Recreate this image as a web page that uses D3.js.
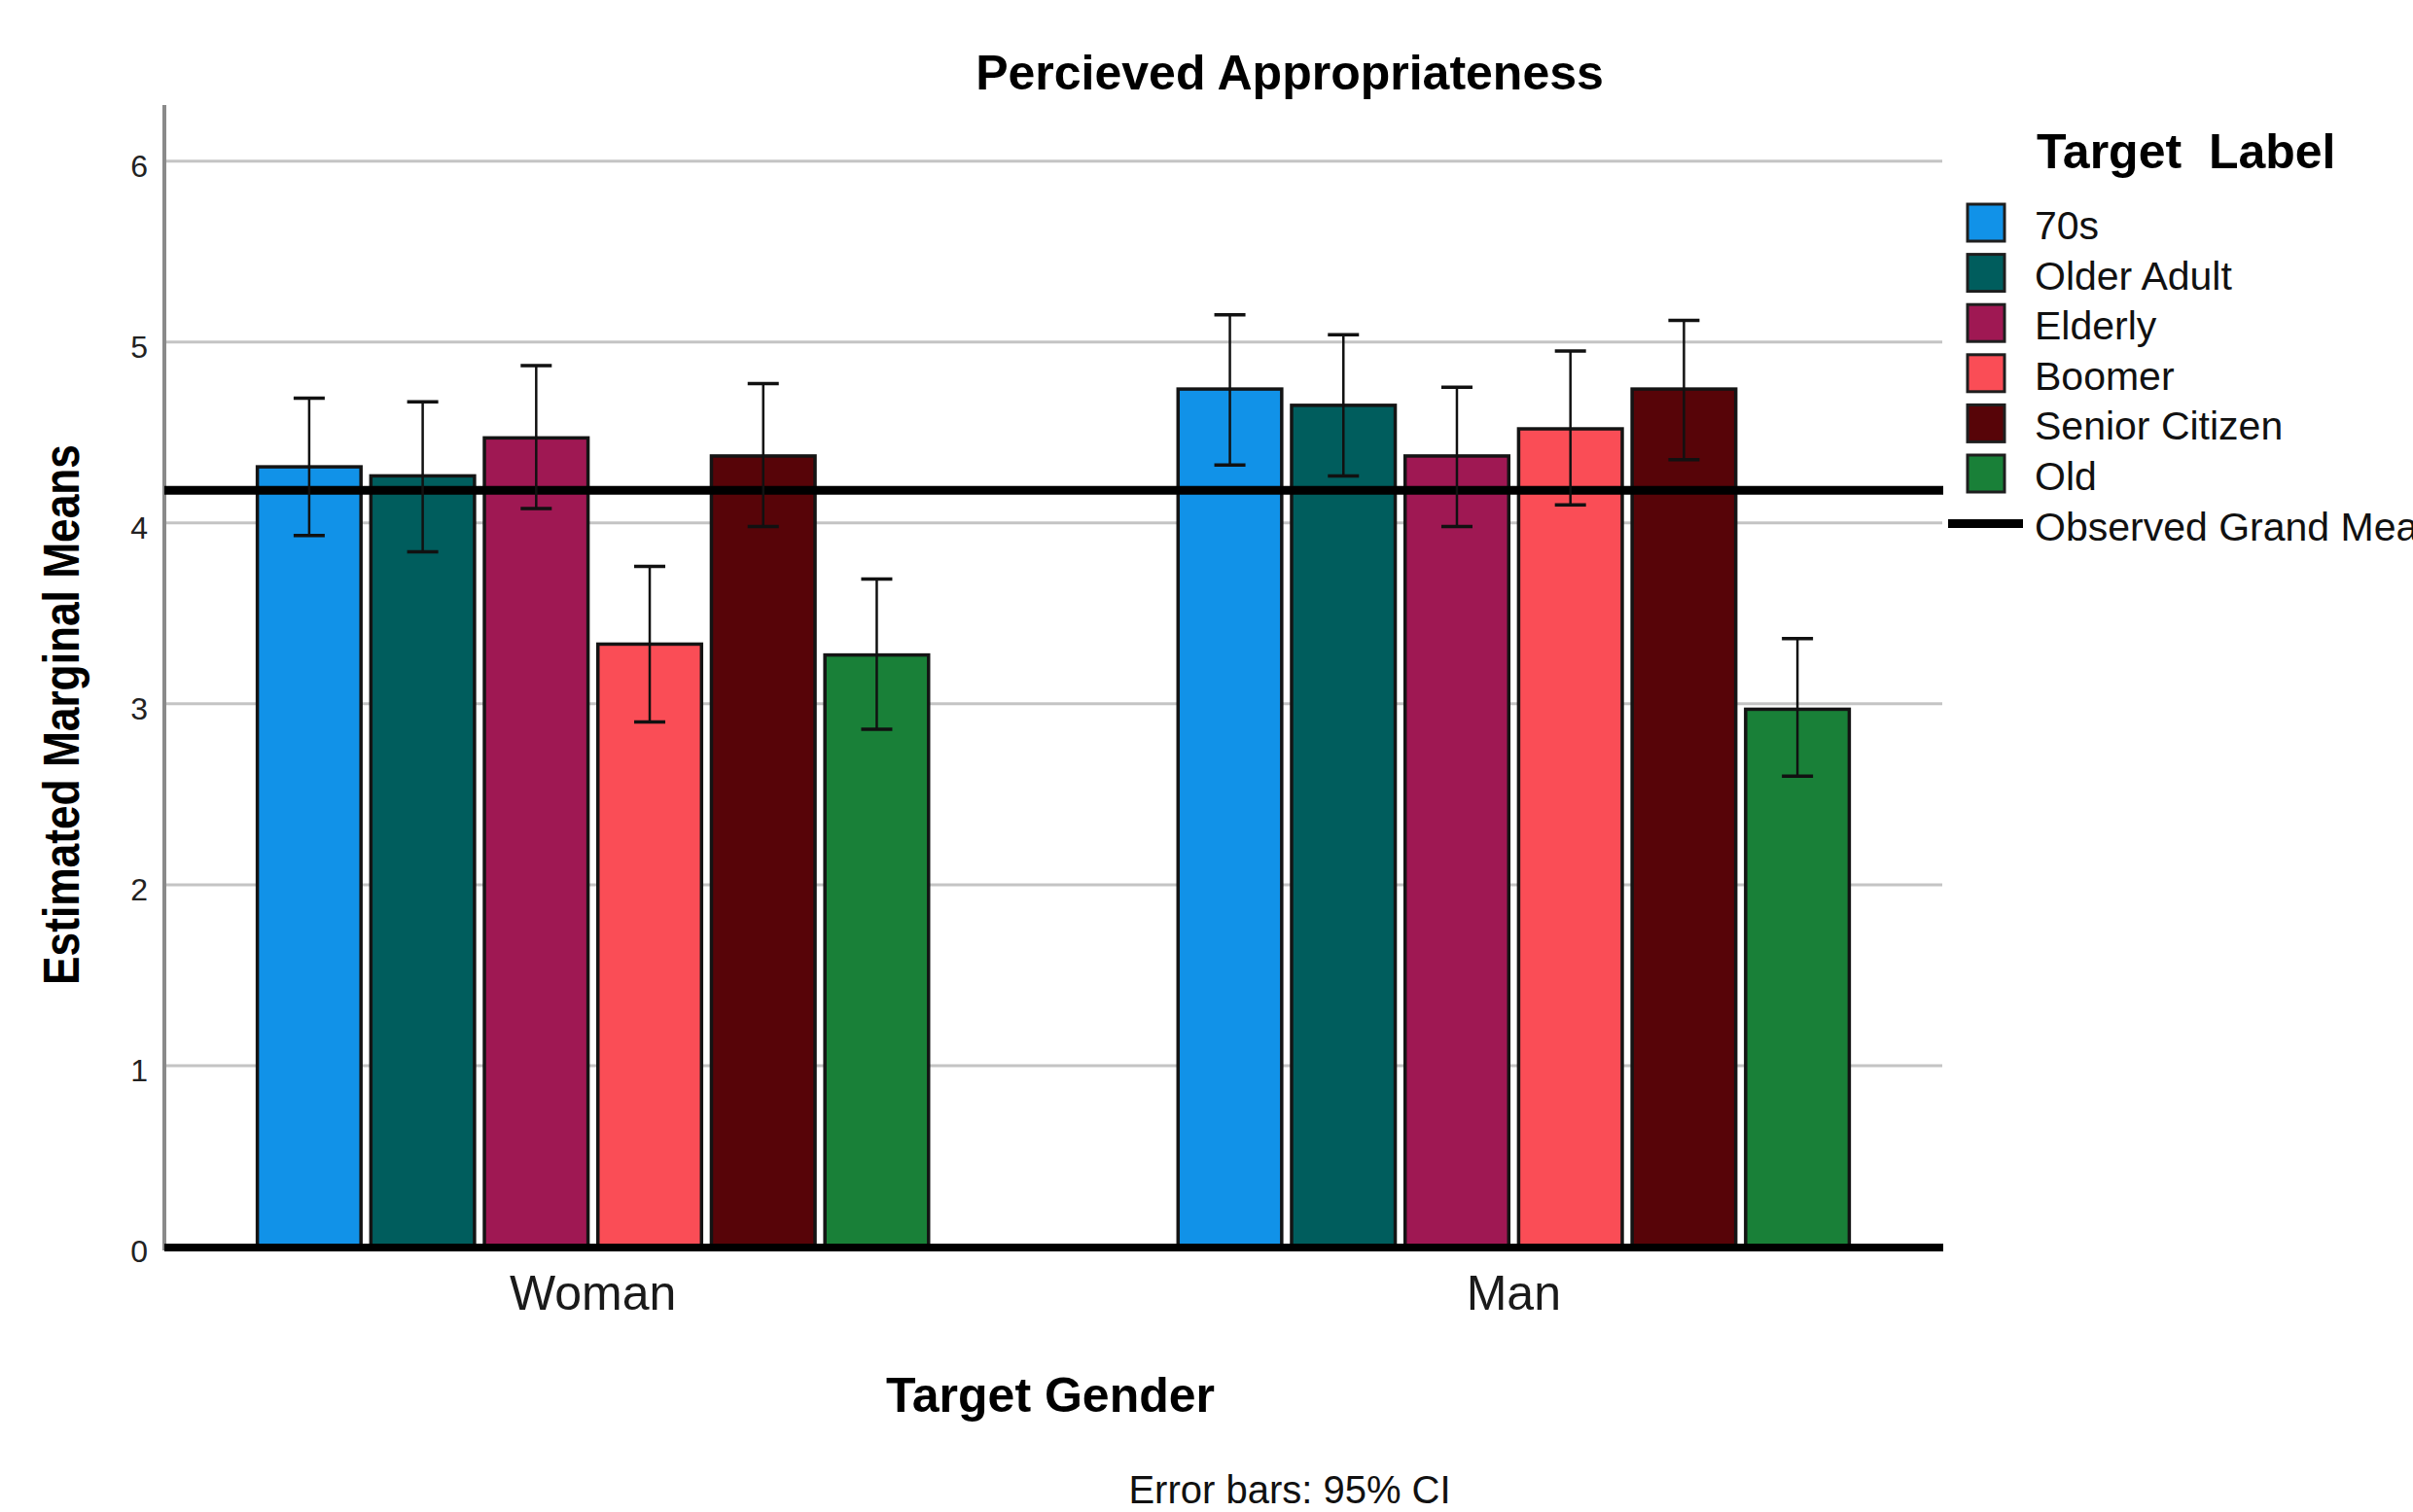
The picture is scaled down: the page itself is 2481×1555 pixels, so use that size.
<!DOCTYPE html>
<html>
<head>
<meta charset="utf-8">
<script src="https://cdn.jsdelivr.net/npm/d3@7"></script>
<style>
  html, body { margin: 0; padding: 0; background: #ffffff; }
  svg { display: block; font-family: "Liberation Sans", Arial, sans-serif; }
</style>
</head>
<body>
<svg id="chart" width="2481" height="1555"></svg>
<script>
// Groups on the x axis and the target labels within each group
const genders = ["Woman", "Man"];
const targetLabels = ["70s", "Older Adult", "Elderly", "Boomer", "Senior Citizen", "Old"];
const labelColors = ["#1192e8", "#005d5d", "#9f1853", "#fa4d56", "#570408", "#198038"];

// Estimated marginal means with 95% CI bounds, one array per gender
const womanMeans = [4.31, 4.26, 4.47, 3.33, 4.37, 3.27];
const womanLower = [3.93, 3.84, 4.08, 2.90, 3.98, 2.86];
const womanUpper = [4.69, 4.67, 4.87, 3.76, 4.77, 3.69];
const manMeans   = [4.74, 4.65, 4.37, 4.52, 4.74, 2.97];
const manLower   = [4.32, 4.26, 3.98, 4.10, 4.35, 2.60];
const manUpper   = [5.15, 5.04, 4.75, 4.95, 5.12, 3.36];

const grandMean = 4.18;
const yTicks = [0, 1, 2, 3, 4, 5, 6];
const yMax = 6.31;

const rows = [];
genders.forEach((g, gi) => {
  const m = gi === 0 ? womanMeans : manMeans;
  const lo = gi === 0 ? womanLower : manLower;
  const hi = gi === 0 ? womanUpper : manUpper;
  targetLabels.forEach((t, ti) => {
    rows.push({ gender: g, label: t, mean: m[ti], lower: lo[ti], upper: hi[ti], color: labelColors[ti] });
  });
});

const svg = d3.select("#chart");
svg.append("rect").attr("width", 2481).attr("height", 1555).attr("fill", "#ffffff");

const plotLeft = 169, plotRight = 1997, plotTop = 108, plotBottom = 1282;

const y = d3.scaleLinear().domain([0, yMax]).range([plotBottom, plotTop]);
const x0 = d3.scaleBand().domain(genders).range([plotLeft, plotRight])
  .paddingInner(0.271).paddingOuter(0.101);
const x1 = d3.scaleBand().domain(targetLabels).range([0, x0.bandwidth()]).paddingInner(0.087);
const color = d3.scaleOrdinal().domain(targetLabels).range(labelColors);

// Horizontal gridlines
svg.append("g").selectAll("line").data(yTicks.filter(d => d > 0)).join("line")
  .attr("x1", plotLeft).attr("x2", plotRight)
  .attr("y1", d => y(d)).attr("y2", d => y(d))
  .attr("stroke", "#c4c4c4").attr("stroke-width", 3);

// Y axis
const yAxis = svg.append("g").attr("transform", `translate(${plotLeft},0)`)
  .call(d3.axisLeft(y).tickValues(yTicks).tickSize(0).tickPadding(17).tickFormat(d3.format("d")));
yAxis.select(".domain").remove();
yAxis.selectAll("text").attr("font-size", 32).attr("fill", "#222").attr("dy", "0.48em")
  .attr("font-family", "\"Liberation Sans\", Arial, sans-serif");
svg.append("line").attr("x1", plotLeft).attr("x2", plotLeft)
  .attr("y1", plotTop).attr("y2", plotBottom + 4)
  .attr("stroke", "#8a8a8a").attr("stroke-width", 4);

// Bars
svg.append("g").selectAll("rect").data(rows).join("rect")
  .attr("x", d => x0(d.gender) + x1(d.label))
  .attr("y", d => y(d.mean))
  .attr("width", x1.bandwidth())
  .attr("height", d => y(0) - y(d.mean))
  .attr("fill", d => color(d.label))
  .attr("stroke", "#141414").attr("stroke-width", 3.5);

// Zero baseline
svg.append("line").attr("x1", plotLeft).attr("x2", plotRight + 1)
  .attr("y1", y(0) + 1).attr("y2", y(0) + 1)
  .attr("stroke", "#000").attr("stroke-width", 8);

// Observed grand mean reference line
svg.append("line").attr("x1", plotLeft).attr("x2", plotRight + 1)
  .attr("y1", y(grandMean)).attr("y2", y(grandMean))
  .attr("stroke", "#000").attr("stroke-width", 9);

// 95% CI error bars
const eb = svg.append("g").selectAll("g").data(rows).join("g")
  .attr("transform", d => `translate(${x0(d.gender) + x1(d.label) + x1.bandwidth() / 2},0)`);
eb.append("line").attr("x1", 0).attr("x2", 0)
  .attr("y1", d => y(d.upper)).attr("y2", d => y(d.lower))
  .attr("stroke", "#111").attr("stroke-width", 2.5);
eb.append("line").attr("x1", -16).attr("x2", 16)
  .attr("y1", d => y(d.upper)).attr("y2", d => y(d.upper))
  .attr("stroke", "#111").attr("stroke-width", 3.5);
eb.append("line").attr("x1", -16).attr("x2", 16)
  .attr("y1", d => y(d.lower)).attr("y2", d => y(d.lower))
  .attr("stroke", "#111").attr("stroke-width", 3.5);

// X axis category labels
const xAxis = svg.append("g").attr("transform", `translate(0,${plotBottom})`)
  .call(d3.axisBottom(x0).tickSize(0).tickPadding(29));
xAxis.select(".domain").remove();
xAxis.selectAll("text").attr("font-size", 50).attr("fill", "#1a1a1a")
  .attr("font-family", "\"Liberation Sans\", Arial, sans-serif");

// Title
svg.append("text").attr("x", 1326).attr("y", 92).attr("text-anchor", "middle")
  .attr("font-size", 50).attr("font-weight", "bold").attr("fill", "#000")
  .text("Percieved Appropriateness");

// Axis titles
svg.append("text").attr("transform", "translate(81,735) rotate(-90)")
  .attr("text-anchor", "middle").attr("font-size", 52).attr("font-weight", "bold")
  .attr("textLength", 556).attr("lengthAdjust", "spacingAndGlyphs")
  .text("Estimated Marginal Means");

svg.append("text").attr("x", 1080).attr("y", 1452).attr("text-anchor", "middle")
  .attr("font-size", 50).attr("font-weight", "bold").text("Target Gender");

svg.append("text").attr("x", 1326).attr("y", 1546).attr("text-anchor", "middle")
  .attr("font-size", 40).attr("fill", "#111")
  .text("Error bars: 95% CI");

// Legend
const legend = svg.append("g");
legend.append("text").attr("x", 2094).attr("y", 173)
  .attr("font-size", 50).attr("font-weight", "bold")
  .style("white-space", "pre").text("Target  Label");

const rowPitch = 51.6;
const items = legend.selectAll("g.item").data(targetLabels).join("g").attr("class", "item")
  .attr("transform", (d, i) => `translate(0,${209 + i * rowPitch})`);
items.append("rect").attr("x", 2023).attr("y", 1).attr("width", 38).attr("height", 38)
  .attr("fill", d => color(d)).attr("stroke", "#1e1e1e").attr("stroke-width", 3);
items.append("text").attr("x", 2092).attr("y", 37)
  .attr("font-size", 41).attr("fill", "#111").text(d => d);

const gm = legend.append("g").attr("transform", `translate(0,${209 + targetLabels.length * rowPitch})`);
gm.append("line").attr("x1", 2003).attr("x2", 2080).attr("y1", 20).attr("y2", 20)
  .attr("stroke", "#000").attr("stroke-width", 9);
gm.append("text").attr("x", 2092).attr("y", 37)
  .attr("font-size", 41).attr("fill", "#111").text("Observed Grand Mean");
</script>
</body>
</html>
